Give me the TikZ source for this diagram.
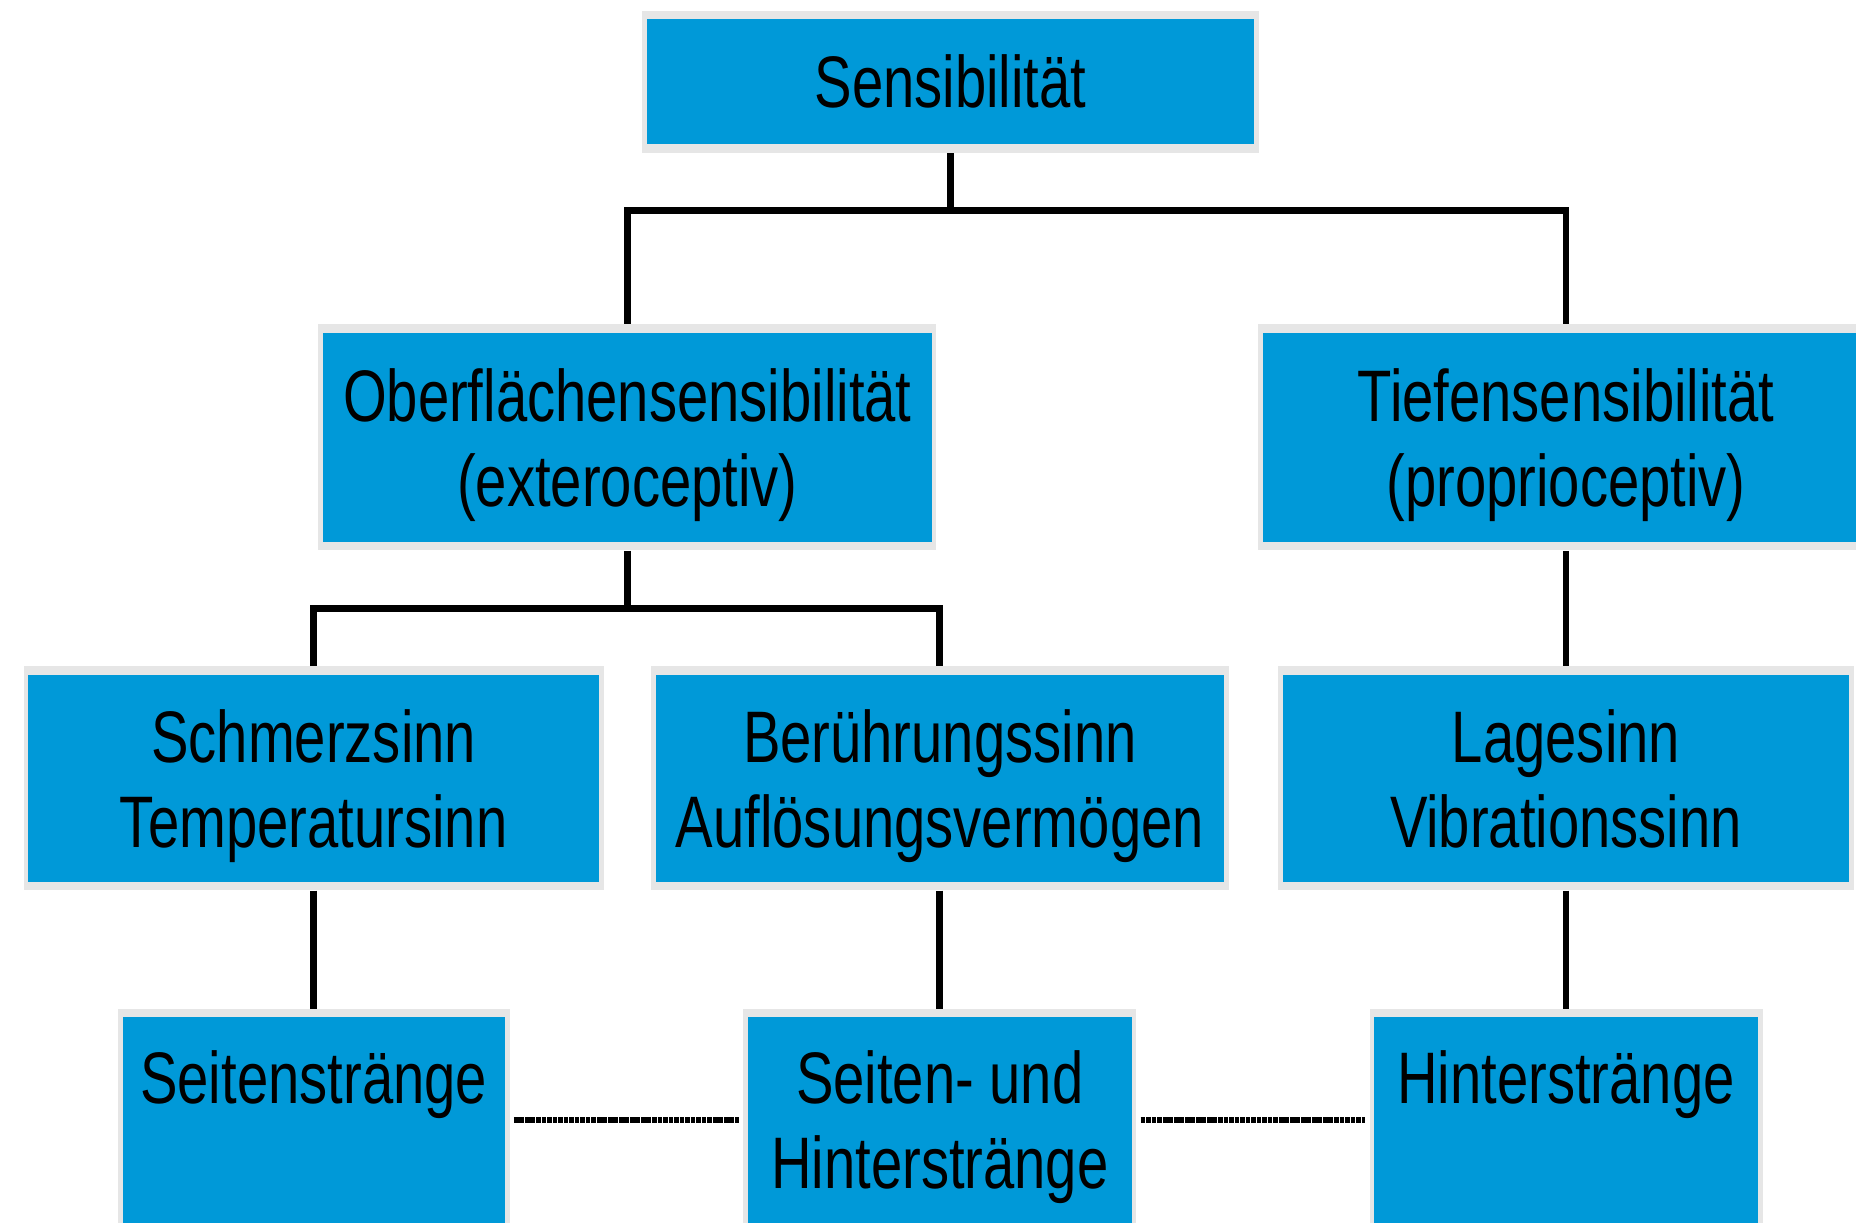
\documentclass[tikz,border=0pt]{standalone}
\usepackage{fontspec}
\newfontfamily\boxfont{Liberation Sans}[FakeStretch=0.77]
\definecolor{boxblue}{HTML}{0099D8}
\definecolor{boxgray}{HTML}{E6E6E6}
\begin{document}
\begin{tikzpicture}[x=0.6pt,y=-0.6pt,
  box/.style={inner sep=0pt, fill=boxgray, text=black,
    font=\boxfont\fontsize{37pt}{43pt}\selectfont, align=center,
    path picture={\fill[boxblue] ([shift={(2.4pt,-4.2pt)}]path picture bounding box.north west) rectangle ([shift={(-2.4pt,4.2pt)}]path picture bounding box.south east);}},
  conn/.style={line width=3.5pt},
  link/.style={line width=3pt, dash pattern=on 2.4pt off 0.4pt, shorten >=2pt, shorten <=2pt}]
\useasboundingbox (0,0) rectangle (1568,1033);
\clip (0,0) rectangle (1568,1033);
\fill[white] (0,0) rectangle (1568,1033);
% top
\node[box, minimum width=312.6pt, minimum height=72pt] (top) at (803,69) {Sensibilität};
% level 2
\node[box, minimum width=313.2pt, minimum height=114.6pt] (ober) at (530,369.5) {Oberflächensensibilität\\\smash{(exteroceptiv)}};
\node[box, minimum width=312pt, minimum height=114.6pt] (tief) at (1323,369.5) {Tiefensensibilität\\\smash{(proprioceptiv)}};
% level 3
\node[box, minimum width=294pt, minimum height=113.4pt] (schm) at (265,657.5) {Schmerzsinn\\\smash{Temperatursinn}};
\node[box, minimum width=292.8pt, minimum height=113.4pt] (ber) at (794,657.5) {Berührungssinn\\\smash{Auflösungsvermögen}};
\node[box, minimum width=291.6pt, minimum height=113.4pt] (lage) at (1323,657.5) {Lagesinn\\\smash{Vibrationssinn}};
% level 4
\node[box, anchor=north] (seit) at (265,852) {\parbox[c][124.8pt][t]{198.6pt}{\centering\vspace*{21pt}Seitenstränge}};
\node[box, anchor=north] (sh) at (794,852) {\parbox[c][124.8pt][t]{199.2pt}{\centering\vspace*{21pt}Seiten- und\\Hinterstränge}};
\node[box, anchor=north] (hint) at (1323,852) {\parbox[c][124.8pt][t]{199.2pt}{\centering\vspace*{21pt}Hinterstränge}};
% connectors
\coordinate (j1) at (803,178);
\coordinate (j2) at (530,514);
\coordinate (m) at (0,946);
\draw[conn] (top.south) -- (j1);
\draw[conn] (ober.north) |- (j1) -| (tief.north);
\draw[conn] (ober.south) -- (j2);
\draw[conn] (schm.north) |- (j2) -| (ber.north);
\draw[conn] (tief.south) -- (lage.north);
\draw[conn] (schm.south) -- (seit.north);
\draw[conn] (ber.south) -- (sh.north);
\draw[conn] (lage.south) -- (hint.north);
\draw[link] (seit.east |- m) -- (sh.west |- m);
\draw[link] (sh.east |- m) -- (hint.west |- m);
\end{tikzpicture}
\end{document}
